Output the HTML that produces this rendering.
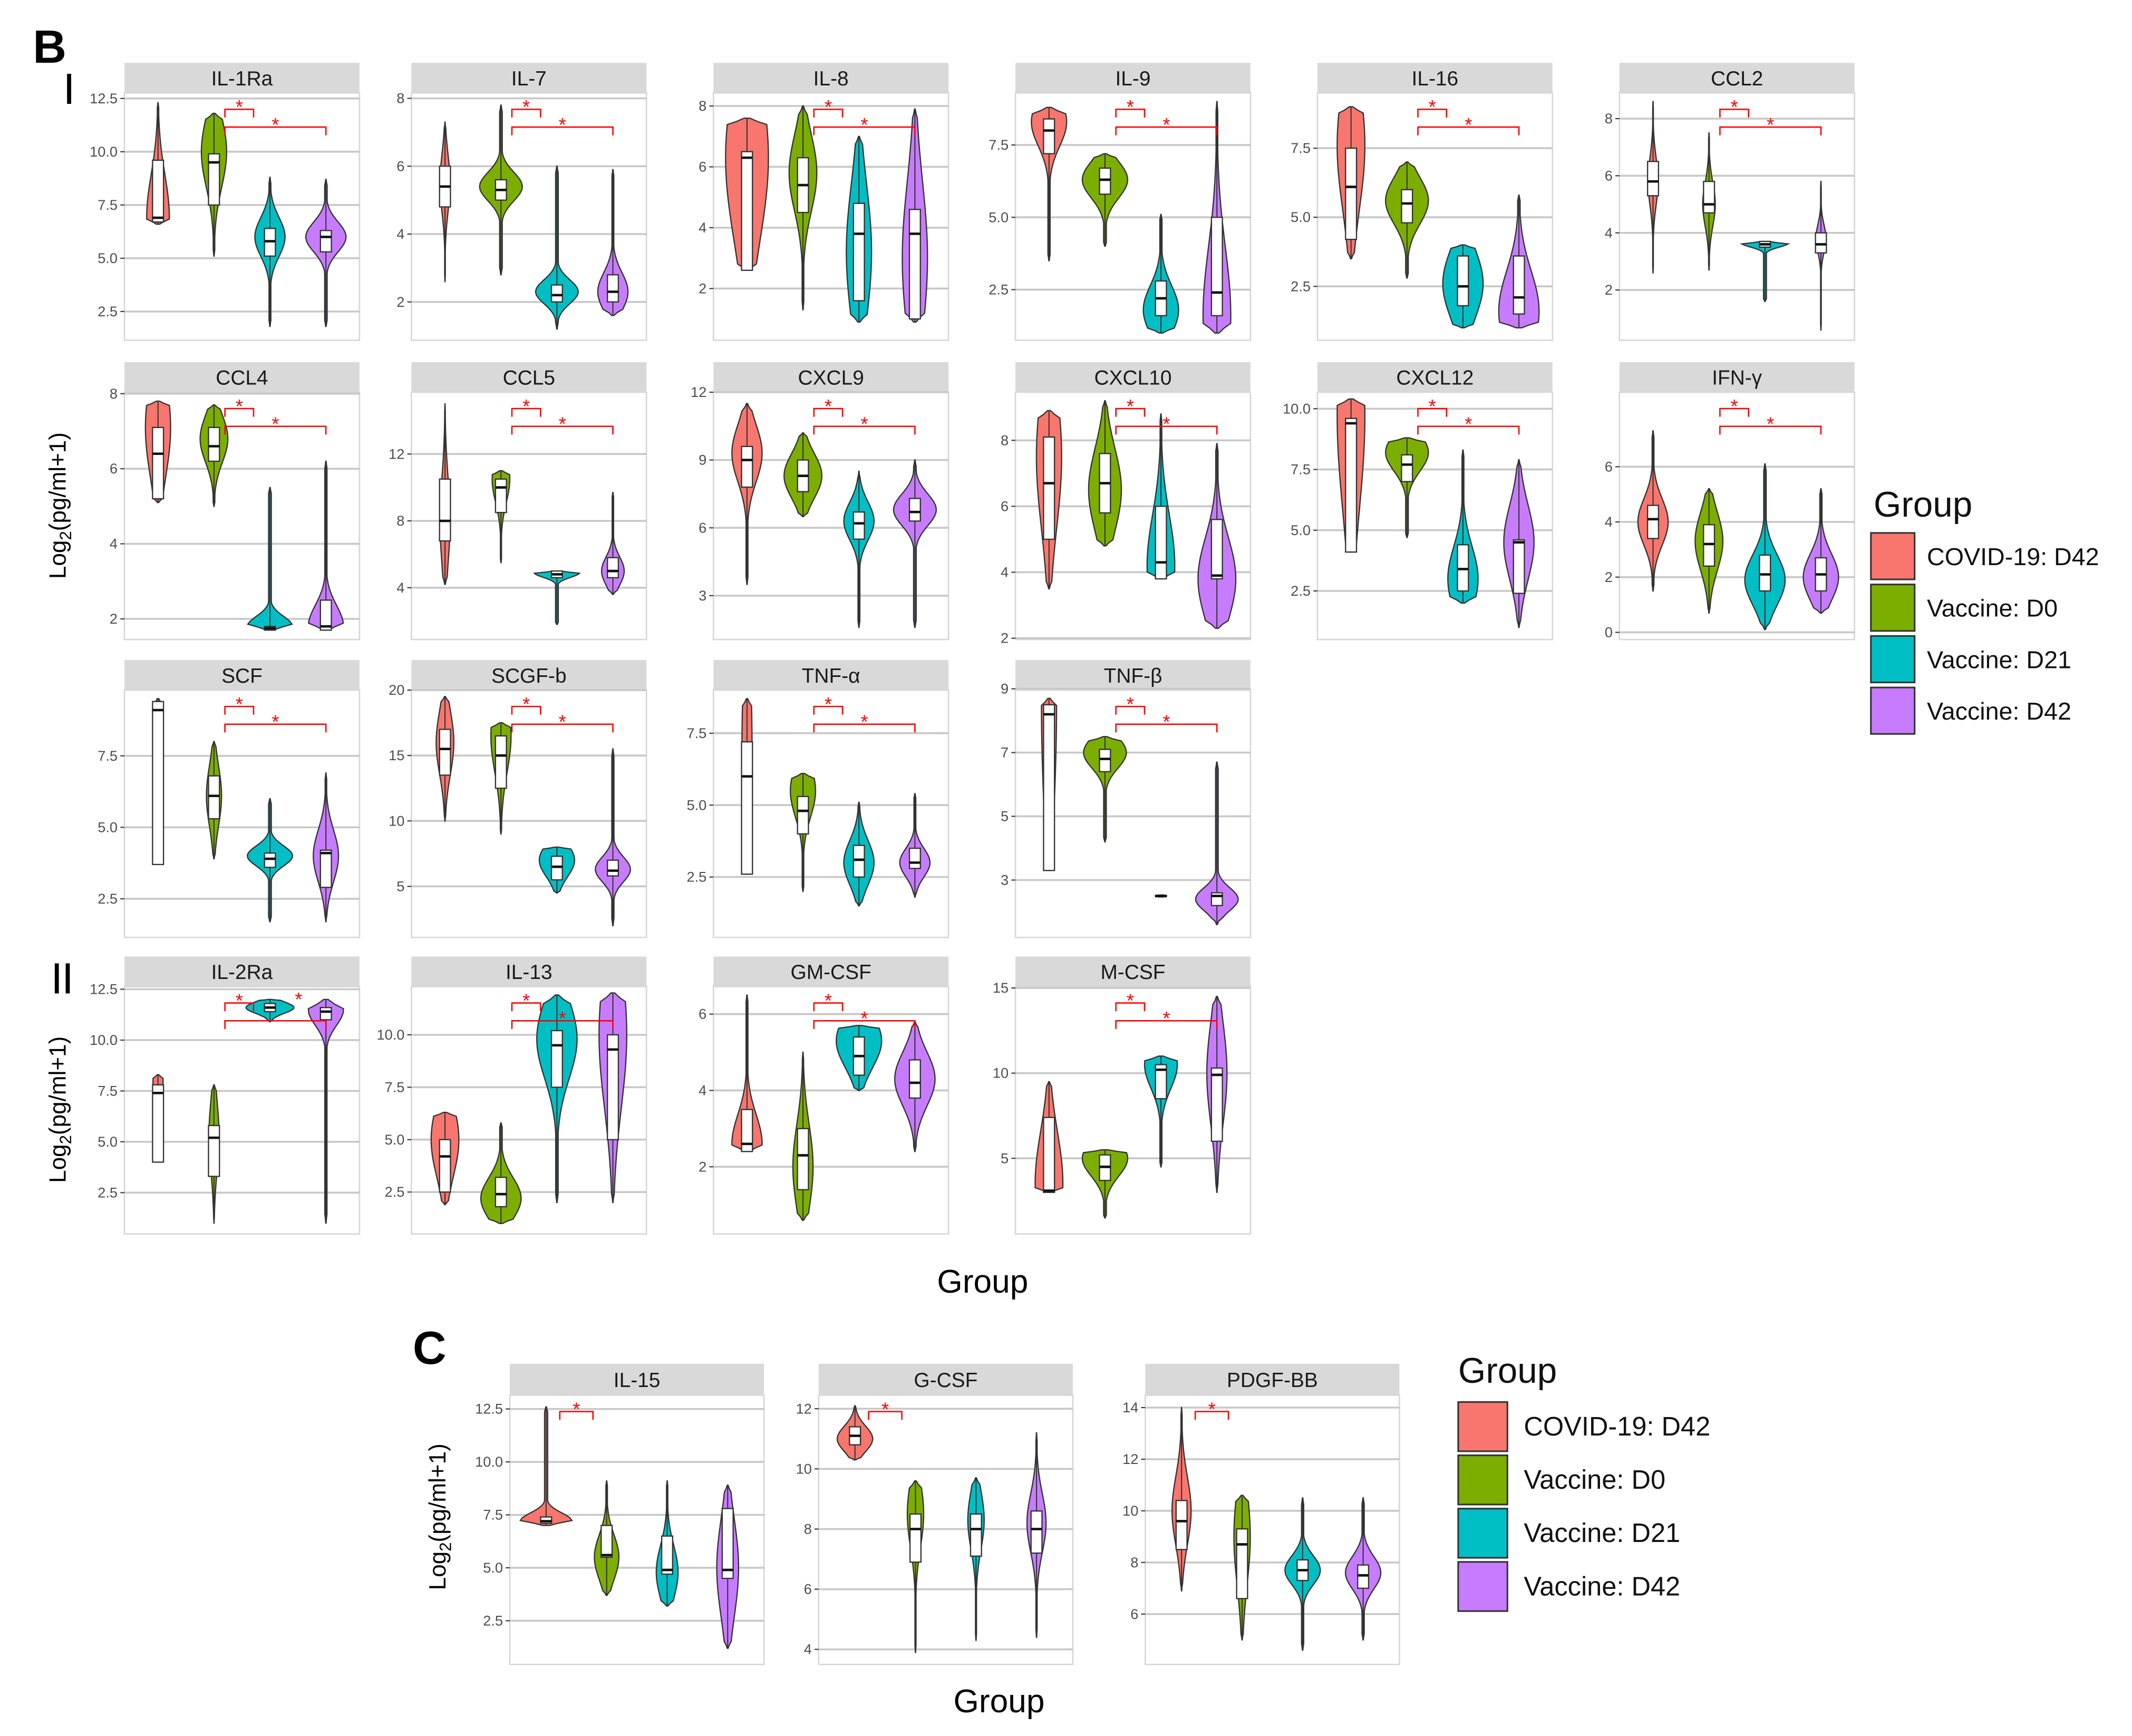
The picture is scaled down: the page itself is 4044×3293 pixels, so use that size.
<!DOCTYPE html>
<html><head><meta charset="utf-8"><style>
html,body{margin:0;padding:0;background:#fff}
svg{display:block}
text{font-family:"Liberation Sans","DejaVu Sans",sans-serif}
</style></head><body>
<svg id="fig" width="4044" height="3293" viewBox="0 0 1560 1270.4" xmlns="http://www.w3.org/2000/svg">
<g id="static">
<text x="24" y="46" font-size="34" font-weight="bold">B</text>
<rect x="49" y="54" width="3" height="22" fill="#000"/>
<rect x="40" y="705" width="3" height="22" fill="#000"/>
<rect x="48" y="705" width="3" height="22" fill="#000"/>
<text x="302" y="998" font-size="34" font-weight="bold">C</text>
<text transform="translate(48,370) rotate(-90)" text-anchor="middle" font-size="17">Log<tspan font-size="12" dy="4">2</tspan><tspan dy="-4">(pg/ml+1)</tspan></text>
<text transform="translate(48,812) rotate(-90)" text-anchor="middle" font-size="17">Log<tspan font-size="12" dy="4">2</tspan><tspan dy="-4">(pg/ml+1)</tspan></text>
<text transform="translate(326,1110) rotate(-90)" text-anchor="middle" font-size="17">Log<tspan font-size="12" dy="4">2</tspan><tspan dy="-4">(pg/ml+1)</tspan></text>
<text x="719" y="946" text-anchor="middle" font-size="24">Group</text>
<text x="731" y="1253" text-anchor="middle" font-size="24">Group</text>
</g>
<g id="panels"></g>
<g id="legends"></g>
</svg>
<script>
const groupNames = ["COVID-19: D42","Vaccine: D0","Vaccine: D21","Vaccine: D42"];
const groupColors = ["#F8766D","#7CAE00","#00BFC4","#C77CFF"];
const panelNames = ["IL-1Ra","IL-7","IL-8","IL-9","IL-16","CCL2","CCL4","CCL5","CXCL9","CXCL10","CXCL12","IFN-γ","SCF","SCGF-b","TNF-α","TNF-β","IL-2Ra","IL-13","GM-CSF","M-CSF","IL-15","G-CSF","PDGF-BB"];
const yDomains = [[1.15,12.76],[0.87,8.16],[0.3,8.43],[0.75,9.3],[0.55,9.5],[0.24,8.9],[1.45,8.04],[0.9,15.7],[1.06,12],[1.96,9.46],[0.5,10.68],[-0.26,8.7],[1.15,9.8],[1.1,20],[0.4,9.0],[1.2,8.96],[0.47,12.63],[0.5,12.3],[0.24,6.72],[0.56,15.08],[0.44,13.15],[3.5,12.45],[4.05,14.48]];
const tickLabels = [["2.5","5.0","7.5","10.0","12.5"],["2","4","6","8"],["2","4","6","8"],["2.5","5.0","7.5"],["2.5","5.0","7.5"],["2","4","6","8"],["2","4","6","8"],["4","8","12"],["3","6","9","12"],["2","4","6","8"],["2.5","5.0","7.5","10.0"],["0","2","4","6"],["2.5","5.0","7.5"],["5","10","15","20"],["2.5","5.0","7.5"],["3","5","7","9"],["2.5","5.0","7.5","10.0","12.5"],["2.5","5.0","7.5","10.0"],["2","4","6"],["5","10","15"],["2.5","5.0","7.5","10.0","12.5"],["4","6","8","10","12"],["6","8","10","12","14"]];
// per violin: [min, q1, median, q3, max, density peak, relative width]
const violinStats = [
[[6.6,6.7,6.9,9.6,12.3,6.9,0.45],[5.1,7.5,9.5,9.9,11.8,10,0.5],[1.8,5.1,5.8,6.4,8.8,6,0.6],[1.8,5.3,6,6.3,8.7,6,0.8]],
[[2.6,4.8,5.4,6,7.3,5.5,0.2],[2.8,5,5.3,5.6,7.8,5.4,0.85],[1.2,2,2.2,2.5,6,2.3,0.85],[1.6,2,2.3,2.8,5.9,2.3,0.6]],
[[2.6,2.6,6.3,6.5,7.6,6.3,0.85],[1.3,4.5,5.4,6.3,8,5.8,0.55],[0.9,1.6,3.8,4.8,7,3.2,0.5],[0.9,1,3.8,4.6,7.9,3,0.5]],
[[3.5,7.2,8,8.4,8.8,8.3,0.7],[4,5.8,6.3,6.7,7.2,6.3,0.9],[1,1.6,2.2,2.8,5.1,1.8,0.7],[1,1.6,2.4,5,9,1.6,0.55]],
[[3.5,4.2,6.1,7.5,9,7.6,0.55],[2.8,4.8,5.5,6,7,5.6,0.85],[1,1.8,2.5,3.6,4,2.6,0.8],[1,1.5,2.1,3.6,5.8,1.6,0.8]],
[[2.6,5.3,5.8,6.5,8.6,5.8,0.2],[2.7,4.7,5,5.8,7.5,5,0.25],[1.6,3.5,3.6,3.7,3.7,3.65,0.95],[0.6,3.3,3.6,4,5.8,3.8,0.2]],
[[5.1,5.2,6.4,7.1,7.8,7.1,0.5],[5,6.2,6.6,7.1,7.7,6.8,0.55],[1.7,1.7,1.75,1.8,5.5,1.8,0.9],[1.7,1.7,1.8,2.5,6.2,1.8,0.7]],
[[4.2,6.8,8,10.5,15,8,0.2],[5.5,8.5,10,10.5,11,10.5,0.35],[1.8,4.6,4.8,5,5,4.9,0.9],[3.6,4.6,5,5.8,9.7,5,0.45]],
[[3.5,7.8,9,9.6,11.5,9.3,0.6],[6.5,7.6,8.3,9,10.2,8.3,0.75],[1.6,5.5,6.2,6.7,8.5,6.3,0.6],[1.6,6.3,6.7,7.3,9,6.8,0.85]],
[[3.5,5,6.7,8.1,8.9,7.5,0.5],[4.8,5.8,6.7,7.6,9.2,6.5,0.65],[3.8,3.8,4.3,6,8.8,4.2,0.55],[2.3,3.8,3.9,5.6,7.9,3.8,0.75]],
[[4.1,4.1,9.4,9.6,10.4,9.7,0.55],[4.7,7,7.7,8.1,8.8,8.2,0.85],[2,2.5,3.4,4.4,8.3,3,0.6],[1,2.4,4.5,4.6,7.9,4.5,0.6]],
[[1.5,3.4,4.1,4.6,7.3,4,0.6],[0.7,2.4,3.2,3.9,5.2,3.3,0.55],[0.1,1.5,2.1,2.8,6.1,1.9,0.8],[0.7,1.5,2.1,2.7,5.2,2,0.7]],
[[3.7,3.7,9.1,9.4,9.5,9.4,0.2],[3.9,5.3,6.1,6.8,8,6.1,0.3],[1.7,3.6,3.9,4.1,6,4,0.9],[1.7,2.9,4.1,4.2,6.9,4,0.5]],
[[10,13.5,15.5,17,19.5,16,0.35],[9,12.5,15,16.5,17.5,16.5,0.4],[4.5,5.5,6.5,7.3,8,7,0.7],[2,5.8,6.2,7,15.5,6.3,0.7]],
[[2.6,2.6,6,7.2,8.7,7,0.2],[2,4,4.8,5.3,6.1,5.5,0.5],[1.5,2.5,3.1,3.6,5.1,3,0.6],[1.8,2.8,3,3.5,5.4,3,0.6]],
[[3.3,3.3,8.2,8.5,8.7,8.5,0.3],[4.2,6.4,6.8,7.1,7.5,7,0.85],[2.47,2.48,2.5,2.52,2.53,2.5,0.2],[1.6,2.2,2.5,2.6,6.7,2.4,0.85]],
[[4,4,7.4,7.8,8.3,7.8,0.2],[1,3.3,5.2,5.8,7.8,5.3,0.2],[10.9,11.4,11.6,11.8,12,11.6,0.95],[1,11,11.4,11.6,12,11.5,0.7]],
[[1.9,2.5,4.2,5,6.3,5,0.55],[1,1.8,2.4,3.2,5.8,2.2,0.8],[2,7.5,9.5,10.2,11.9,9.8,0.8],[2,5,9.3,10,12,10,0.55]],
[[2.4,2.4,2.6,3.5,6.5,2.6,0.6],[0.6,1.4,2.3,3,5,2,0.4],[4,4.4,4.9,5.4,5.7,5.3,0.9],[2.4,3.8,4.2,4.8,5.8,4.3,0.8]],
[[3,3,3.1,7.4,9.5,3.5,0.55],[1.5,3.7,4.5,5.2,5.5,5,0.9],[4.5,8.5,10.2,10.5,11,10.5,0.65],[3,6,9.9,10.3,14.5,10,0.4]],
[[7,7.1,7.2,7.4,12.6,7.2,0.95],[3.7,5.5,5.6,7,9.1,5.5,0.45],[3.2,4.7,4.9,6.5,9.1,4.8,0.4],[1.2,4.5,4.9,7.8,8.9,5,0.4]],
[[10.3,10.8,11.1,11.4,12.1,11,0.65],[3.9,6.9,8,8.5,9.6,8.5,0.3],[4.3,7.1,8,8.5,9.7,8.3,0.3],[4.4,7.2,8,8.6,11.2,8.2,0.35]],
[[6.9,8.5,9.6,10.4,14,10,0.35],[5,6.6,8.7,9.3,10.6,9,0.3],[4.6,7.3,7.7,8.1,10.5,7.7,0.65],[5,7,7.5,7.9,10.5,7.6,0.65]]
];
// significance brackets: [fromGroup, toGroup, level]
const bracketsB = [[1,2,0],[1,3,1]];
const bracketsC = [[0,1,0]];

const NS="http://www.w3.org/2000/svg";
function mk(tag, attrs, parent){const e=document.createElementNS(NS,tag);for(const k in attrs)e.setAttribute(k,attrs[k]);if(parent)parent.appendChild(e);return e;}
const panelsG=document.getElementById('panels');
const layout=[];
const colX=[91,301,522,743,964,1185], rowTop=[46,265,483,700];
const rowCounts=[6,6,4,4];
rowCounts.forEach((n,r)=>{for(let c=0;c<n;c++)layout.push({x:colX[c],top:rowTop[r],w:172,sh:22,ph:181,sec:'B'});});
[373,599,838].forEach(x=>layout.push({x:x,top:998,w:186,sh:23,ph:197,sec:'C'}));

panelNames.forEach((name,pi)=>{
  const L=layout[pi]; const g=mk('g',{},panelsG);
  
  
  const pt=L.top+L.sh, pb=pt+L.ph, dom=yDomains[pi];
  const yS=v=>pb-(v-dom[0])/(dom[1]-dom[0])*L.ph;
  const xS=i=>L.x+L.w*(i+0.6)/4.2;
  const strip=mk('rect',{x:L.x,y:L.top,width:L.w,height:L.sh,fill:'#d9d9d9'},g);
  
  
  const st=mk('text',{x:L.x+L.w/2,y:L.top+L.sh/2+5.5,'text-anchor':'middle','font-size':15,fill:'#1a1a1a'},g);
  st.textContent=name;
  
  
  const bg=mk('rect',{x:L.x,y:pt,width:L.w,height:L.ph,fill:'#fff',stroke:'#d6d6d6','stroke-width':1},g);
  
  
  tickLabels[pi].forEach(t=>{
    const v=parseFloat(t), y=yS(v);
    const gl=mk('line',{x1:L.x,x2:L.x+L.w,y1:y,y2:y,stroke:'#c8c8c8','stroke-width':1.4},g);
    
    
    mk('line',{x1:L.x-3,x2:L.x,y1:y,y2:y,stroke:'#333','stroke-width':0.8},g);
    const tl=mk('text',{x:L.x-5,y:y+3.5,'text-anchor':'end','font-size':10.5,fill:'#4d4d4d'},g);
    tl.textContent=t;
    
    
  });
  violinStats[pi].forEach((s,gi)=>{
    const [lo,q1,md,q3,hi,pk,rw]=s; const cx=xS(gi);
    const maxHW=rw*L.w/4.2*0.45;
    const sd=Math.max((q3-q1)*0.7,(hi-lo)*0.07,0.02);
    const N=48; const pts=[];
    for(let k=0;k<=N;k++){
      const v=lo+(hi-lo)*k/N;
      let f=Math.exp(-0.5*Math.pow((v-pk)/sd,2));
      f=Math.max(f,0.06);
      const e=Math.min(k,N-k)/N; const tap=Math.min(1,e/0.04);
      pts.push([v,maxHW*f*Math.max(tap,0.15)]);
    }
    let d='M'+cx+','+yS(lo);
    pts.forEach(p=>{d+='L'+(cx+p[1]).toFixed(2)+','+yS(p[0]).toFixed(2);});
    d+='L'+cx+','+yS(hi);
    for(let k=pts.length-1;k>=0;k--){d+='L'+(cx-pts[k][1]).toFixed(2)+','+yS(pts[k][0]).toFixed(2);}
    d+='Z';
    const vp=mk('path',{d:d,fill:groupColors[gi],stroke:'#333','stroke-width':0.9},g);
    
    
    const wk=mk('line',{x1:cx,x2:cx,y1:yS(lo),y2:yS(hi),stroke:'#333','stroke-width':0.8},g);
    
    
    const bx=mk('rect',{x:cx-4,y:yS(q3),width:8,height:Math.max(yS(q1)-yS(q3),1),fill:'#fff',stroke:'#333','stroke-width':0.9},g);
    
    
    const ml=mk('line',{x1:cx-4,x2:cx+4,y1:yS(md),y2:yS(md),stroke:'#111','stroke-width':1.8},g);
    
    
  });
  const br = L.sec==='B'?bracketsB:bracketsC;
  br.forEach(b=>{
    const [a,c,lv]=b;
    let x1,x2;
    if(L.sec==='B'){x1=xS(a)+8; x2= lv===0? xS(c)-12 : xS(c);} else {x1=xS(a)+10;x2=xS(c)-10;}
    const yl=pt+12+lv*13;
    const bp=mk('path',{d:`M${x1},${yl+6}V${yl}H${x2}V${yl+6}`,fill:'none',stroke:'#ff0000','stroke-width':1},g);
    
    
    let sx = lv===0?(x1+x2)/2 : x1+(x2-x1)*0.5;
    if(name==='IL-2Ra'&&lv===1){sx=x2-20;}
    const sy = (name==='IL-2Ra'&&lv===1)? pt+9 : yl-2;
    const star=mk('text',{x:sx,y:sy+5,'text-anchor':'middle','font-size':14,fill:'#ff0000'},g);
    star.textContent='*';
    
    
  });
});

const lg=document.getElementById('legends');
function legend(tx,ty,bx,by0,bw,bh,step,fs,lx,nm){
  const g=mk('g',{},lg);
  
  
  const t=mk('text',{x:tx,y:ty,'font-size':26,fill:'#111'},g);t.textContent='Group';
  
  
  groupNames.forEach((n,i)=>{
    const y=by0+i*step;
    const r=mk('rect',{x:bx,y:y,width:bw,height:bh,fill:groupColors[i],stroke:'#333','stroke-width':1.2},g);
    
    
    const tt=mk('text',{x:lx,y:y+bh/2+6.5,'font-size':fs,fill:'#111'},g);tt.textContent=n;
    
    
  });
}
legend(1371,378,1369,390,32,34,37.7,18,1410,'legend-b');
legend(1067,1012,1067,1026,36,36,39,19.5,1115,'legend-c');
</script>
</body></html>
